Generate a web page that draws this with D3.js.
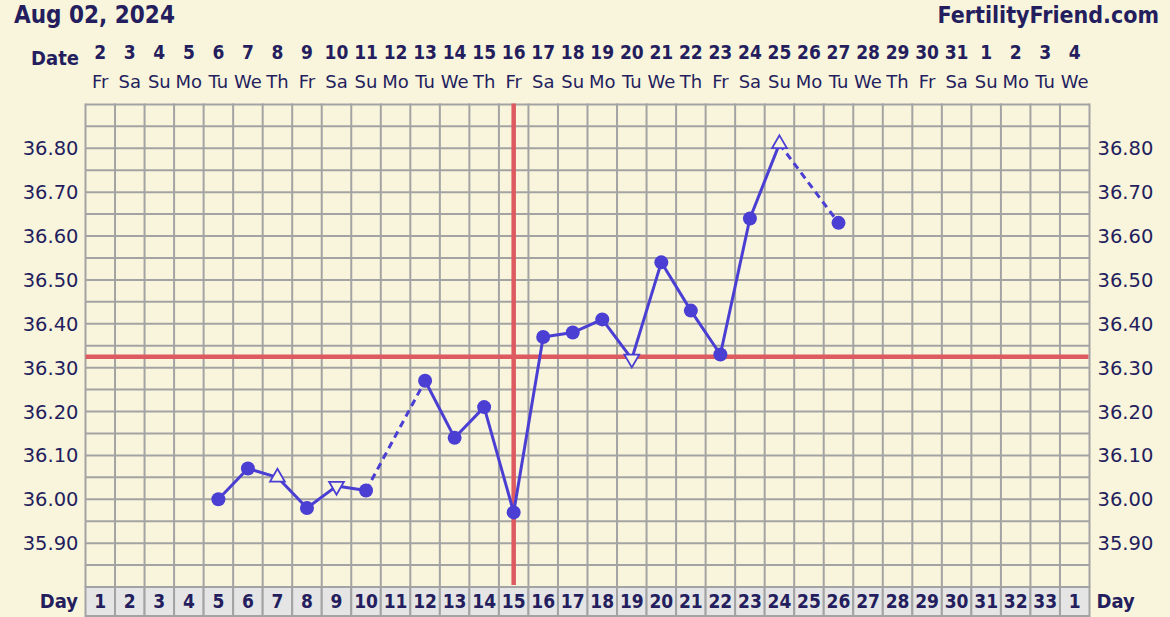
<!DOCTYPE html>
<html>
<head>
<meta charset="utf-8">
<script src="https://cdn.jsdelivr.net/npm/d3@7/dist/d3.min.js"></script>
<style>
  html, body { margin: 0; padding: 0; background: #f9f5dc; }
  svg { display: block; }
  .bold { font-family: "DejaVu Sans Condensed", "DejaVu Sans", sans-serif; font-weight: bold; font-stretch: condensed; }
  .reg { font-family: "DejaVu Sans", Verdana, sans-serif; }
</style>
</head>
<body>
<svg id="chart" width="1170" height="617"></svg>
<script>
// ---------- data ----------
const title = "Aug 02, 2024";
const site = "FertilityFriend.com";
const cycleDays = ["1","2","3","4","5","6","7","8","9","10","11","12","13","14","15","16","17","18","19","20","21","22","23","24","25","26","27","28","29","30","31","32","33","1"];
const dates = ["2","3","4","5","6","7","8","9","10","11","12","13","14","15","16","17","18","19","20","21","22","23","24","25","26","27","28","29","30","31","1","2","3","4"];
const weekdays = ["Fr","Sa","Su","Mo","Tu","We","Th","Fr","Sa","Su","Mo","Tu","We","Th","Fr","Sa","Su","Mo","Tu","We","Th","Fr","Sa","Su","Mo","Tu","We","Th","Fr","Sa","Su","Mo","Tu","We"];
const tempLabels = ["36.80","36.70","36.60","36.50","36.40","36.30","36.20","36.10","36.00","35.90"];
// recorded temperatures by cycle day
const tempDays   = [5, 6, 7, 8, 9, 10, 12, 13, 14, 15, 16, 17, 18, 19, 20, 21, 22, 23, 24, 26];
const tempValues = [36.00, 36.07, 36.05, 35.98, 36.03, 36.02, 36.27, 36.14, 36.21, 35.97, 36.37, 36.38, 36.41, 36.32, 36.54, 36.43, 36.33, 36.64, 36.81, 36.63];
const markers    = ["c","c","up","c","down","c","c","c","c","c","c","c","c","down","c","c","c","c","up","c"];
const coverline = 36.325;
const ovulationDay = 15;
const yMin = 35.80, yMax = 36.90, gridStep = 0.05;

// ---------- styles ----------
const BG = "#f9f5dc", TEXT = "#241e5e", GRID = "#a3a3a3", RED = "#dd5a60", LINE = "#4a3ed3", CELL = "#e5e5e5";

const svg = d3.select("#chart");
svg.append("rect").attr("width",1170).attr("height",617).attr("fill",BG);

const pLeft = 85.5, pRight = 1089.5, pTop = 103.5, pBottom = 587;
const x = d3.scaleBand().domain(d3.range(cycleDays.length)).range([pLeft, pRight]).paddingInner(0).paddingOuter(0);
const y = d3.scaleLinear().domain([yMin, yMax]).range([pBottom, 104.4]);
const cx = i => x(i) + x.bandwidth() / 2;

// grid
const g = svg.append("g");
const hVals = d3.range(Math.round((yMax - yMin) / gridStep) + 1).map(k => yMin + k * gridStep);
g.selectAll("line.h").data(hVals).enter().append("line")
  .attr("x1", pLeft).attr("x2", pRight)
  .attr("y1", d => y(d)).attr("y2", d => y(d))
  .attr("stroke", GRID).attr("stroke-width", 2);
g.selectAll("line.v").data(d3.range(cycleDays.length + 1)).enter().append("line")
  .attr("x1", i => pLeft + i * x.bandwidth()).attr("x2", i => pLeft + i * x.bandwidth())
  .attr("y1", pTop).attr("y2", pBottom)
  .attr("stroke", GRID).attr("stroke-width", 2);

// day row
const dayTop = 587, dayBot = 616;
g.selectAll("rect.day").data(cycleDays).enter().append("rect")
  .attr("x", (d, i) => x(i)).attr("y", dayTop)
  .attr("width", x.bandwidth()).attr("height", dayBot - dayTop)
  .attr("fill", CELL).attr("stroke", GRID).attr("stroke-width", 2);
svg.selectAll("text.dayn").data(cycleDays).enter().append("text")
  .attr("class", "bold").attr("x", (d, i) => cx(i)).attr("y", 607.5)
  .attr("text-anchor", "middle").attr("font-size", 19).attr("fill", TEXT)
  .text(d => d);

// red lines
svg.append("line").attr("x1", pLeft).attr("x2", pRight - 1)
  .attr("y1", y(coverline)).attr("y2", y(coverline))
  .attr("stroke", RED).attr("stroke-width", 4.5);
svg.append("line").attr("x1", cx(ovulationDay - 1)).attr("x2", cx(ovulationDay - 1))
  .attr("y1", pTop).attr("y2", 585)
  .attr("stroke", RED).attr("stroke-width", 4.5);

// header text
svg.append("text").attr("class", "bold").attr("x", 14).attr("y", 22.5)
  .attr("font-size", 24).attr("fill", TEXT).text(title);
svg.append("text").attr("class", "bold").attr("x", 1159).attr("y", 22.5)
  .attr("text-anchor", "end").attr("font-size", 23).attr("fill", TEXT).text(site);
svg.append("text").attr("class", "bold").attr("x", 79).attr("y", 65)
  .attr("text-anchor", "end").attr("font-size", 20).attr("fill", TEXT).text("Date");
svg.selectAll("text.date").data(dates).enter().append("text")
  .attr("class", "bold").attr("x", (d, i) => cx(i)).attr("y", 59)
  .attr("text-anchor", "middle").attr("font-size", 19).attr("fill", TEXT).text(d => d);
svg.selectAll("text.wd").data(weekdays).enter().append("text")
  .attr("class", "reg").attr("x", (d, i) => cx(i)).attr("y", 88)
  .attr("text-anchor", "middle").attr("font-size", 18).attr("fill", TEXT).text(d => d);

// temperature labels
svg.selectAll("text.tl").data(tempLabels).enter().append("text")
  .attr("class", "reg").attr("x", 78.5).attr("y", d => y(+d) + 7)
  .attr("text-anchor", "end").attr("font-size", 19.5).attr("fill", TEXT).text(d => d);
svg.selectAll("text.tr").data(tempLabels).enter().append("text")
  .attr("class", "reg").attr("x", 1097.5).attr("y", d => y(+d) + 7)
  .attr("text-anchor", "start").attr("font-size", 19.5).attr("fill", TEXT).text(d => d);

// Day labels
svg.append("text").attr("class", "bold").attr("x", 78).attr("y", 607.5)
  .attr("text-anchor", "end").attr("font-size", 20).attr("fill", TEXT).text("Day");
svg.append("text").attr("class", "bold").attr("x", 1096.5).attr("y", 607.5)
  .attr("text-anchor", "start").attr("font-size", 20).attr("fill", TEXT).text("Day");

// series lines
const pts = tempDays.map((d, k) => ({ day: d, v: tempValues[k], m: markers[k] }));
const segs = [];
for (let k = 1; k < pts.length; k++) segs.push([pts[k - 1], pts[k]]);
svg.selectAll("line.seg").data(segs).enter().append("line")
  .attr("x1", s => cx(s[0].day - 1)).attr("y1", s => y(s[0].v))
  .attr("x2", s => cx(s[1].day - 1)).attr("y2", s => y(s[1].v))
  .attr("stroke", LINE).attr("stroke-width", 3)
  .attr("stroke-dasharray", s => (s[1].day - s[0].day > 1) ? "7,5" : null);

// markers
svg.selectAll("circle.pt").data(pts.filter(p => p.m === "c")).enter().append("circle")
  .attr("cx", p => cx(p.day - 1)).attr("cy", p => y(p.v)).attr("r", 7)
  .attr("fill", LINE);
const tri = d3.symbol().type(d3.symbolTriangle).size(95);
svg.selectAll("path.tri").data(pts.filter(p => p.m !== "c")).enter().append("path")
  .attr("d", tri)
  .attr("transform", p => `translate(${cx(p.day - 1)},${y(p.v)}) rotate(${p.m === "down" ? 180 : 0})`)
  .attr("fill", BG).attr("stroke", LINE).attr("stroke-width", 1.8);
</script>
</body>
</html>
